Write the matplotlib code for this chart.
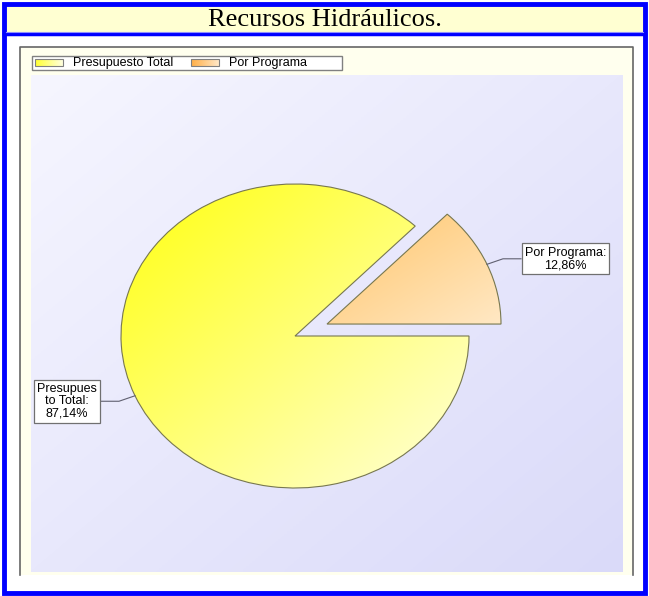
import numpy as np
import matplotlib
matplotlib.use("Agg")
import matplotlib.pyplot as plt
from matplotlib.patches import Rectangle
from matplotlib.lines import Line2D
from matplotlib.colors import LinearSegmentedColormap
from matplotlib.transforms import IdentityTransform

# ---------------- data ----------------
title = "Recursos Hidráulicos."
categories = ["Presupuesto Total", "Por Programa"]
shares = [87.14, 12.86]
point_labels = ["Presupues\nto Total:\n87,14%", "Por Programa:\n12,86%"]
explode = [0.0, 0.2]
grad_colors = [("#FFFF10", "#FFFFDA"), ("#FFC56A", "#FFE8C4")]
swatch_colors = [("#FFFF30", "#FFFFE0"), ("#FFAE45", "#FFE8C8")]

# ---------------- layout ----------------
W, H = 649, 596
fig = plt.figure(figsize=(W / 100, H / 100), dpi=100)
fig.patch.set_facecolor("white")

bg = fig.add_axes([0, 0, 1, 1])
bg.axis("off")


def gradient(ax, c0, c1, extent, zorder, clip=None, horizontal=False):
    n = 200
    xx, yy = np.meshgrid(np.linspace(0, 1, n), np.linspace(0, 1, n))
    t = xx if horizontal else (xx + yy) / 2.0
    cmap = LinearSegmentedColormap.from_list("g", [c0, c1])
    im = ax.imshow(t, cmap=cmap, extent=extent, origin="upper", aspect="auto",
                   zorder=zorder, interpolation="bilinear")
    if clip is not None:
        im.set_clip_path(clip)
    return im


blue = "#0000FF"
# outer blue frame
bg.add_patch(Rectangle((0, 0), W, H, facecolor="white", edgecolor="none", zorder=0))
bg.add_patch(Rectangle((4, 3.5), W - 8, H - 7, facecolor="none", edgecolor=blue, linewidth=3.5, zorder=5))
# title band
bg.add_patch(Rectangle((5, 5), W - 10, 27, facecolor="#FFFFD2", edgecolor="none", zorder=1))
bg.add_line(Line2D([4, W - 4], [33.5, 33.5], color=blue, linewidth=2.5, zorder=5))
bg.add_line(Line2D([6, W - 6], [32, 32], color="#9090FF", linewidth=0.8, zorder=5))
bg.text(W / 2, 19.5, title, ha="center", va="center", fontsize=19,
        family="Liberation Serif", color="black", zorder=6)

# panel
bg.add_patch(Rectangle((20, 47), 613, 528, facecolor="#FFFFEE", edgecolor="none", zorder=1))
bg.add_line(Line2D([20, 20, 633, 633], [575, 47, 47, 575], color="#666666", linewidth=1.2, zorder=2))

# legend
bg.add_patch(Rectangle((32, 56), 310, 14, facecolor="white", edgecolor="#808080", linewidth=1, zorder=3))
sw_x = [35, 191]
for i, cat in enumerate(categories):
    x0 = sw_x[i]
    r = Rectangle((x0, 59), 28, 7, facecolor="none", edgecolor="#808080", linewidth=0.8, zorder=5)
    bg.add_patch(r)
    gradient(bg, swatch_colors[i][0], swatch_colors[i][1], (x0, x0 + 28, 66, 59), 4,
             clip=r, horizontal=True)
    bg.text(x0 + 38, 63, cat, ha="left", va="center", fontsize=9,
            family="Liberation Sans", color="black", zorder=6)

bg.set_xlim(0, W)
bg.set_ylim(H, 0)

# ---------------- pie ----------------
cx, cy, rx, ry = 295, 336, 174, 152
pl, pr, pt, pb = 31, 623, 75, 572
ax = fig.add_axes([pl / W, 1 - pb / H, (pr - pl) / W, (pb - pt) / H])
ax.axis("off")
xlim = ((pl - cx) / rx, (pr - cx) / rx)
ylim = ((cy - pb) / ry, (cy - pt) / ry)
# plot area gradient
gradient(ax, "#F6F6FF", "#DADAF9", (xlim[0], xlim[1], ylim[0], ylim[1]), 0)

wedges, _ = ax.pie(shares, explode=explode, startangle=3.6 * shares[1], counterclock=True,
                   radius=1, center=(0, 0),
                   wedgeprops=dict(facecolor="none", edgecolor="#77774f", linewidth=0.8))
for i, w in enumerate(wedges):
    w.set_zorder(3)
    ext = w.get_path().get_extents()
    gradient(ax, grad_colors[i][0], grad_colors[i][1], (ext.x0, ext.x1, ext.y0, ext.y1), 2, clip=w)

ax.set_aspect("auto")
ax.set_xlim(*xlim)
ax.set_ylim(*ylim)

# labels with leader lines
for w, lab in zip(wedges, point_labels):
    mid = np.deg2rad((w.theta1 + w.theta2) / 2)
    ax_pt = (w.center[0] + w.r * np.cos(mid), w.center[1] + w.r * np.sin(mid))
    px, py = ax.transData.transform(ax_pt)
    sx = 1 if np.cos(mid) >= 0 else -1
    sy = 1 if np.sin(mid) >= 0 else -1
    kx, ky = px + 16 * sx, py + 5.5 * sy
    ex = kx + 18 * sx
    fig.add_artist(Line2D([px, kx, ex], [py, ky, ky], transform=IdentityTransform(),
                          color="#606070", linewidth=0.8, zorder=10))
    fig.text(ex + sx * 4, ky, lab, transform=IdentityTransform(),
             ha="left" if sx > 0 else "right", va="center", multialignment="center",
             fontsize=9, family="Liberation Sans", linespacing=1.05, zorder=11,
             bbox=dict(boxstyle="square,pad=0.25", facecolor="white", edgecolor="#707070", linewidth=0.9))

fig.savefig("out.png", dpi=100)
